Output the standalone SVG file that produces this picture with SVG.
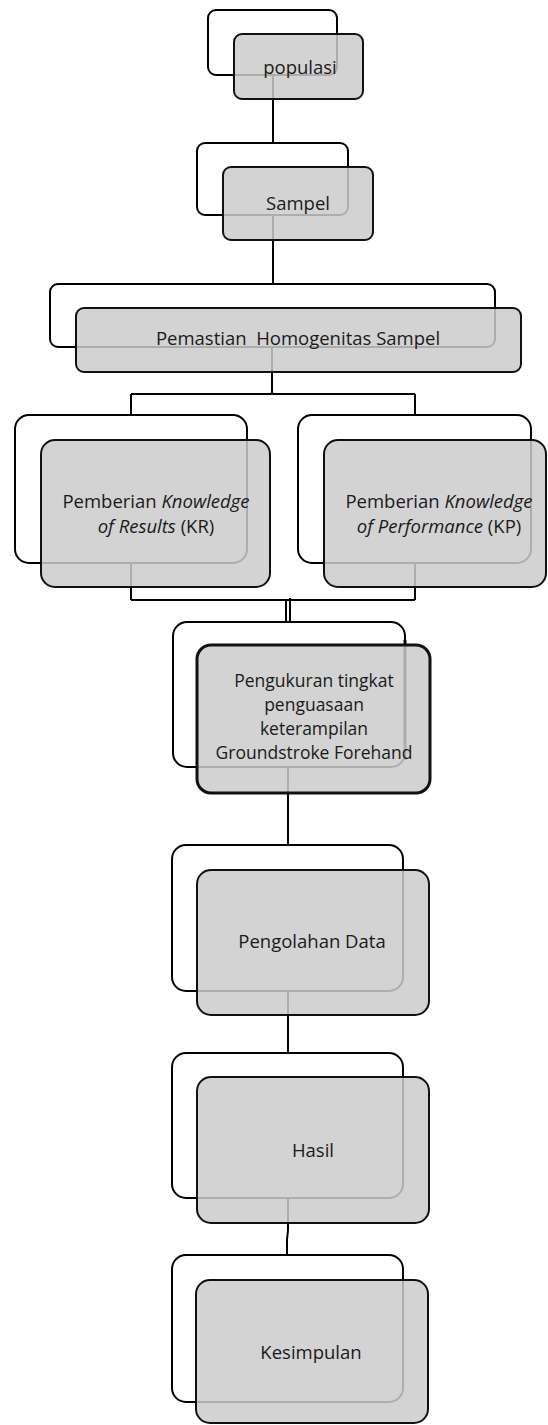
<svg xmlns="http://www.w3.org/2000/svg" width="548" height="1425" viewBox="0 0 548 1425">
<style>
.back{fill:#ffffff;stroke:#000;stroke-width:2}
.front{fill:#cbcbcb;fill-opacity:0.85;stroke:#111;stroke-width:2}
.bold{stroke-width:3}
.conn{fill:none;stroke:#000;stroke-width:2}
text{font-family:"Open Sans","Noto Sans","Liberation Sans",sans-serif;font-size:18.5px;fill:#1a1a1a;text-anchor:middle}
.it{font-style:italic}
.s18{font-size:17.5px}
</style>
<rect width="548" height="1425" fill="#fff"/>
<g id="connectors">
<path class="conn" d="M273 75V143"/>
<path class="conn" d="M273 215V284"/>
<path class="conn" d="M272 347V394M131 394H415M131 394V415M415 394V415"/>
<path class="conn" d="M131 563V600M415 563V600M131 600H415M286 600V622"/>
<path class="conn" d="M290 598V622" stroke-width="3"/>
<path class="conn" d="M288 767V845"/>
<path class="conn" d="M288 991V1053"/>
<path class="conn" d="M288 1198V1230L287 1240V1255"/>
</g>
<g id="populasi">
<rect class="back" x="208" y="10" width="129" height="65" rx="8"/>
<rect class="front" x="234" y="34" width="129" height="65" rx="8"/>
<text x="300" y="74">populasi</text>
</g>
<g id="sampel">
<rect class="back" x="197" y="143" width="151" height="72" rx="8"/>
<rect class="front" x="223" y="167" width="150" height="73" rx="8"/>
<text x="298" y="210">Sampel</text>
</g>
<g id="pemastian">
<rect class="back" x="50" y="284" width="445" height="63" rx="8"/>
<rect class="front" x="76" y="308" width="445" height="64" rx="8"/>
<text x="298" y="345" xml:space="preserve">Pemastian  Homogenitas Sampel</text>
</g>
<g id="kr">
<rect class="back" x="15" y="415" width="232" height="148" rx="14"/>
<rect class="front" x="41" y="440" width="229" height="147" rx="14"/>
<text x="156" y="508">Pemberian <tspan class="it">Knowledge</tspan></text>
<text x="156" y="533"><tspan class="it">of Results</tspan> (KR)</text>
</g>
<g id="kp">
<rect class="back" x="298" y="415" width="233" height="148" rx="14"/>
<rect class="front" x="324" y="440" width="222" height="147" rx="14"/>
<text x="439" y="508">Pemberian <tspan class="it">Knowledge</tspan></text>
<text x="439" y="533"><tspan class="it">of Performance</tspan> (KP)</text>
</g>
<g id="pengukuran">
<rect class="back" x="173" y="622" width="232" height="145" rx="14"/>
<path d="M405 640V760" stroke="#000" stroke-width="3" fill="none"/>
<rect class="front bold" x="197" y="645" width="233" height="148" rx="14"/>
<text class="s18" x="314" y="687">Pengukuran tingkat</text>
<text class="s18" x="314" y="711">penguasaan</text>
<text class="s18" x="314" y="735">keterampilan</text>
<text class="s18" x="314" y="759">Groundstroke Forehand</text>
</g>
<g id="pengolahan">
<rect class="back" x="172" y="845" width="231" height="146" rx="14"/>
<rect class="front" x="197" y="870" width="232" height="145" rx="14"/>
<text x="312" y="948">Pengolahan Data</text>
</g>
<g id="hasil">
<rect class="back" x="172" y="1053" width="231" height="145" rx="14"/>
<rect class="front" x="197" y="1077" width="232" height="146" rx="14"/>
<text x="313" y="1157">Hasil</text>
</g>
<g id="kesimpulan">
<rect class="back" x="172" y="1255" width="231" height="147" rx="14"/>
<rect class="front" x="196" y="1280" width="232" height="143" rx="14"/>
<text x="311" y="1359">Kesimpulan</text>
</g>
</svg>
